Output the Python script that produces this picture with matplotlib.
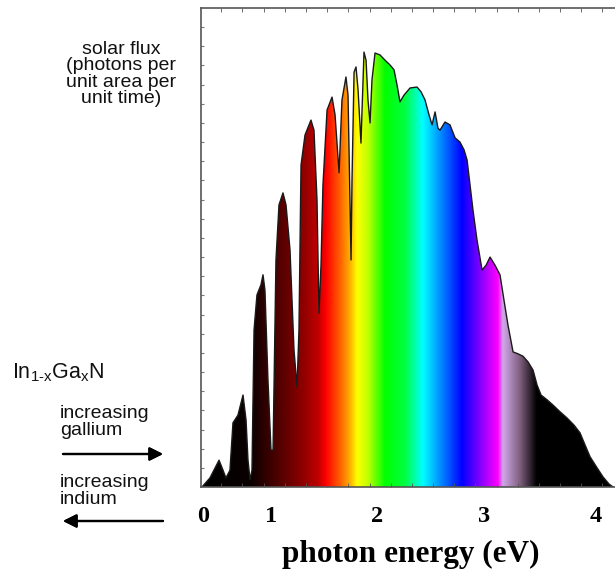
import numpy as np
import matplotlib.pyplot as plt
from matplotlib.colors import LinearSegmentedColormap

# envelope of the solar photon flux (arbitrary units 0-100) vs photon energy (eV)
energy = [0.361, 0.435, 0.519, 0.556, 0.583, 0.620, 0.648, 0.694, 0.741, 0.769,
          0.787, 0.806, 0.824, 0.843, 0.870, 0.907, 0.926, 0.944, 0.972, 1.000,
          1.019, 1.046, 1.074, 1.111, 1.139, 1.176, 1.213, 1.241, 1.259, 1.278,
          1.315, 1.370, 1.398, 1.426, 1.444, 1.463, 1.481, 1.519, 1.565, 1.593,
          1.630, 1.657, 1.694, 1.713, 1.731, 1.741, 1.750, 1.769, 1.787, 1.806,
          1.833, 1.843, 1.861, 1.880, 1.898, 1.917, 1.935, 1.963, 2.009, 2.056,
          2.102, 2.139, 2.167, 2.194, 2.231, 2.287, 2.352, 2.389, 2.426, 2.463,
          2.491, 2.519, 2.546, 2.565, 2.611, 2.657, 2.704, 2.750, 2.787, 2.815,
          2.843, 2.870, 2.907, 2.954, 2.991, 3.028, 3.074, 3.120, 3.157, 3.194,
          3.241, 3.287, 3.333, 3.380, 3.426, 3.463, 3.500, 3.556, 3.611, 3.676,
          3.741, 3.806, 3.861, 3.907, 3.954, 4.019, 4.074, 4.130, 4.167]
flux = [0.0, 1.9, 5.6, 3.5, 1.9, 3.5, 13.4, 15.0, 19.2, 14.0,
        5.6, 1.5, 3.5, 32.8, 40.1, 42.2, 44.3, 41.1, 22.3, 7.7,
        7.7, 47.4, 58.9, 61.4, 58.9, 49.5, 28.6, 20.9, 32.8, 67.2,
        73.5, 76.6, 74.5, 59.9, 36.3, 46.3, 63.0, 78.7, 81.4, 77.7,
        65.6, 80.8, 85.6, 81.8, 59.9, 47.4, 64.1, 86.6, 87.7, 82.9,
        71.8, 78.7, 90.8, 89.1, 80.8, 76.0, 85.0, 90.6, 90.2, 89.1,
        88.1, 87.1, 83.9, 80.4, 81.8, 83.3, 83.5, 82.5, 80.8, 77.7,
        75.6, 78.3, 74.9, 74.5, 76.2, 75.6, 72.9, 72.0, 70.4, 68.3,
        63.0, 57.8, 51.6, 45.3, 46.3, 48.0, 46.3, 44.3, 39.0, 33.8,
        28.2, 27.8, 27.3, 26.1, 24.4, 21.3, 19.2, 18.2, 17.1, 15.7,
        14.4, 12.9, 11.3, 8.8, 6.3, 4.0, 2.1, 0.6, 0.0]

# colour of the fill at a given energy
color_energy = [0.343, 0.806, 0.944, 1.130, 1.315, 1.435, 1.509, 1.639, 1.731,
                1.796, 1.898, 2.056, 2.241, 2.407, 2.565, 2.769, 2.935, 3.102,
                3.130, 3.148, 3.306, 3.463, 4.231]
color_hex = ['#000000', '#0a0000', '#300000', '#600000', '#950000', '#c00000',
             '#ff0000', '#ff6000', '#ffb000', '#ffff00', '#c0ff00', '#00ff00',
             '#00ff40', '#00ffff', '#0090ff', '#0000ff', '#8000ff', '#ff00ff',
             '#e060f0', '#d0a8e8', '#806080', '#000000', '#000000']

tick_pos = [0.37, 1.0, 1.98, 2.97, 4.01]
tick_labels = ['0', '1', '2', '3', '4']

W, H = 615, 569
xmin, xmax = 0.352, 4.231

fig = plt.figure(figsize=(W / 100, H / 100), dpi=100)
ax = fig.add_axes([201 / W, (H - 487) / H, (620 - 201) / W, (487 - 8) / H])
ax.set_xlim(xmin, xmax)
ax.set_ylim(0, 100)

# rainbow gradient clipped to the spectrum envelope
span = color_energy[-1] - color_energy[0]
stops = [((e - color_energy[0]) / span, c) for e, c in zip(color_energy, color_hex)]
cmap = LinearSegmentedColormap.from_list('spec', stops, N=1024)
grad = np.linspace(color_energy[0], color_energy[-1], 1200).reshape(1, -1)
poly = ax.fill_between(energy, 0, flux, facecolor='none', edgecolor='none')
img = ax.imshow(grad, cmap=cmap, aspect='auto', interpolation='bilinear',
                extent=[color_energy[0], color_energy[-1], 0, 100], zorder=1)
img.set_clip_path(poly.get_paths()[0], transform=ax.transData)
ax.plot(energy, flux, color='#1a1a1a', lw=1.0, zorder=2)

# axes styling
for side in ['top', 'left', 'bottom']:
    ax.spines[side].set_color('#555555')
    ax.spines[side].set_linewidth(1.2)
ax.spines['right'].set_visible(False)
ax.set_xticks(tick_pos)
ax.set_xticklabels(tick_labels, family='Liberation Serif', weight='bold', fontsize=17.5)
ax.set_xticks(np.arange(0.54, 4.2, 0.196), minor=True)
ax.tick_params(axis='x', which='major', length=0, pad=14)
ax.tick_params(axis='x', which='minor', direction='in', length=3, color='#555555',
               top=True, bottom=True)
ax.set_yticks(np.arange(4, 100, 4))
ax.set_yticklabels([])
ax.tick_params(axis='y', direction='in', length=2.5, color='#777777', width=0.8)
ax.set_xlabel('photon energy (eV)', family='Liberation Serif', weight='bold',
              fontsize=22.5, labelpad=9)

# annotations on the left
plt.rcParams['mathtext.fontset'] = 'custom'
plt.rcParams['mathtext.rm'] = 'Liberation Sans'
fig.text(121 / W, 1 - 74 / H, 'solar flux\n(photons per\nunit area per\nunit time)',
         family='Liberation Sans', fontsize=14, ha='center', va='center',
         linespacing=0.95, color='#111111')
fig.text(12 / W, 1 - 373 / H, r'In$_{\mathrm{1\text{-}x}}$Ga$_{\mathrm{x}}$N',
         family='Liberation Sans', fontsize=15.5, ha='left', va='center', color='#111111')
fig.text(60 / W, 1 - 422 / H, 'increasing\ngallium', family='Liberation Sans',
         fontsize=14, ha='left', va='center', linespacing=0.95, color='#111111')
fig.text(60 / W, 1 - 491 / H, 'increasing\nindium', family='Liberation Sans',
         fontsize=14, ha='left', va='center', linespacing=0.95, color='#111111')
arrow = dict(arrowstyle='-|>', mutation_scale=20, lw=1.6, color='black',
             shrinkA=0, shrinkB=0)
fig.add_artist(plt.annotate('', xy=(163 / W, 1 - 454 / H), xytext=(63 / W, 1 - 454 / H),
                            xycoords='figure fraction', arrowprops=arrow))
fig.add_artist(plt.annotate('', xy=(63 / W, 1 - 521 / H), xytext=(163 / W, 1 - 521 / H),
                            xycoords='figure fraction', arrowprops=arrow))

fig.savefig('out.png', dpi=100)
